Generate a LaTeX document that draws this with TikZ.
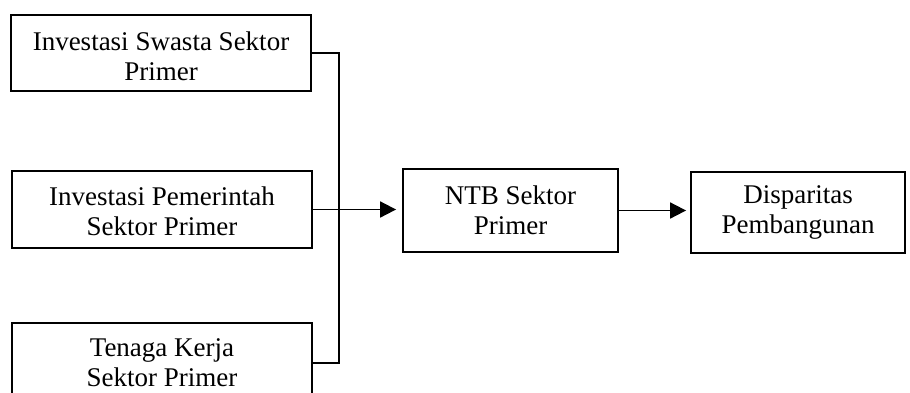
\documentclass[tikz,border=0pt]{standalone}
\usepackage{fontspec}
\setmainfont{Liberation Serif}
\usetikzlibrary{arrows.meta}
\begin{document}
\begin{tikzpicture}[x=0.5pt,y=-0.5pt,
  box/.style={draw,line width=0.9pt,inner sep=0pt},
  txt/.style={font=\fontsize{13.5}{15}\selectfont,align=center,inner sep=0pt},
  link/.style={line width=0.9pt},
  flow/.style={line width=0.9pt,-{Triangle[length=8pt,width=8pt]}}]
\useasboundingbox (0,0) rectangle (910,392);
\clip (0,0) rectangle (910,392);
% input boxes
\node[box,minimum width=150pt,minimum height=38pt] (b1) at (161,53)
  {};
\node[txt,yshift=-1.75pt] at (b1.center) {Investasi Swasta Sektor\\Primer};
\node[box,minimum width=150pt,minimum height=38.5pt] (b2) at (162,209.5)
  {};
\node[txt,yshift=-1pt] at (b2.center) {Investasi Pemerintah\\Sektor Primer};
\node[box,minimum width=150pt,minimum height=40pt] (b3) at (162,363)
  {};
\node[txt] at (b3.center) {Tenaga Kerja\\Sektor Primer};
% outcome boxes
\node[box,minimum width=107.5pt,minimum height=41.5pt] (ntb) at (510.5,210.5)
  {};
\node[txt] at (ntb.center) {NTB Sektor\\Primer};
\node[box,minimum width=107pt,minimum height=40.5pt] (disp) at (798,212.5)
  {};
\node[txt] at (disp.center) {Disparitas\\Pembangunan};
% collector line joining the inputs
\coordinate (j) at (339,0);
\draw[link] (b1.east) -| (j |- b3.east) -- (b3.east);
% arrows
\draw[flow,shorten >=3pt] (b2.east) -- (b2.east -| ntb.west);
\draw[flow,shorten >=2pt] (ntb.east) -- (ntb.east -| disp.west);
\end{tikzpicture}
\end{document}
